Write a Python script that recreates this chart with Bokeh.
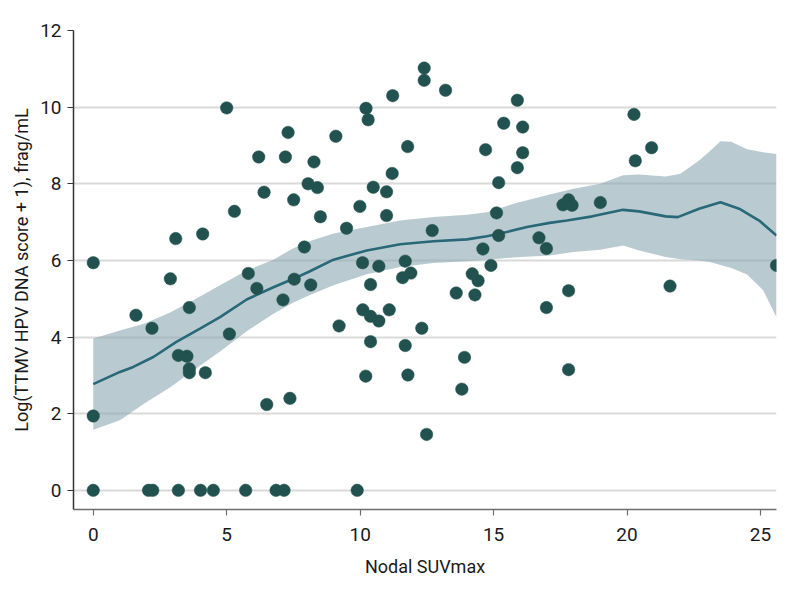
from bokeh.plotting import figure
from bokeh.models import Range1d, FixedTicker
from bokeh.embed import file_html
from bokeh.resources import INLINE

# Scatter data: Nodal SUVmax vs Log(TTMV HPV DNA score + 1)
suv = [0, 0, 0, 1.60, 2.89, 2.20, 3.09, 3.60, 3.19, 3.51, 3.60, 3.60, 4.20, 4.10, 5.00, 5.10,
       5.29, 5.81, 6.13, 6.20, 6.40, 6.50, 7.11, 7.20, 7.30, 7.37, 7.51, 7.53, 7.91, 8.05,
       8.15, 8.27, 8.40, 8.51, 9.09, 9.21, 9.49, 9.99, 10.09, 10.10, 10.21, 10.22, 10.30,
       10.39, 10.39, 10.39, 10.49, 10.70, 10.70, 10.99, 10.99, 11.09, 11.20, 11.22, 11.59,
       11.69, 11.69, 11.78, 11.79, 11.90, 12.31, 12.40, 12.40, 12.49, 12.70, 13.20, 13.60,
       13.81, 13.91, 14.20, 14.30, 14.42, 14.60, 14.70, 14.90, 15.11, 15.19, 15.19, 15.38,
       15.89, 15.89, 16.09, 16.09, 16.70, 16.98, 16.98, 17.60, 17.81, 17.94, 17.81, 17.81,
       19.00, 20.26, 20.31, 20.92, 21.61, 25.60,
       2.07, 2.23, 3.19, 4.02, 4.50, 5.71, 6.85, 7.15, 9.89]
dna = [5.94, 1.94, 0, 4.57, 5.52, 4.23, 6.57, 4.77, 3.52, 3.50, 3.17, 3.07, 3.07, 6.69, 9.98, 4.08,
       7.28, 5.66, 5.27, 8.70, 7.78, 2.24, 4.97, 8.70, 9.34, 2.40, 7.58, 5.51, 6.35, 8.00,
       5.36, 8.57, 7.90, 7.14, 9.24, 4.29, 6.84, 7.41, 5.94, 4.71, 2.98, 9.97, 9.67,
       5.37, 4.54, 3.88, 7.91, 5.85, 4.42, 7.79, 7.17, 4.71, 8.27, 10.30, 5.55,
       5.98, 3.78, 8.97, 3.01, 5.67, 4.23, 11.02, 10.70, 1.46, 6.78, 10.44, 5.15,
       2.64, 3.47, 5.65, 5.10, 5.47, 6.30, 8.89, 5.87, 7.24, 8.03, 6.65, 9.58,
       10.18, 8.42, 9.48, 8.81, 6.59, 6.31, 4.77, 7.45, 7.58, 7.44, 5.21, 3.15,
       7.51, 9.81, 8.60, 8.94, 5.33, 5.87,
       0, 0, 0, 0, 0, 0, 0, 0, 0]

# Smoothed fit
fit_x = [0, 1.0, 1.5, 2.25, 3.1, 4.0, 4.75, 5.75, 6.75, 7.5, 8.1, 9.0, 10.25, 11.5, 12.75, 14.0,
         14.75, 15.25, 16.25, 17.1, 17.75, 18.7, 19.85, 20.45, 21.45, 21.9, 22.7, 23.5, 24.2,
         24.95, 25.6]
fit_y = [2.77, 3.09, 3.22, 3.48, 3.87, 4.22, 4.52, 4.98, 5.30, 5.52, 5.71, 6.02, 6.26, 6.42, 6.50,
         6.55, 6.63, 6.70, 6.87, 6.98, 7.04, 7.15, 7.32, 7.28, 7.15, 7.13, 7.35, 7.52, 7.35,
         7.04, 6.65]

# Confidence band
band_x = [0, 1.0, 1.9, 2.9, 3.75, 4.75, 5.75, 6.75, 7.5, 8.1, 9.0, 10.25, 11.5, 12.75, 14.0, 14.75,
          15.85, 17.1, 18.0, 19.0, 19.85, 20.45, 21.45, 22.0, 22.7, 23.1, 23.5, 23.9, 24.5, 25.1, 25.6]
band_hi = [3.96, 4.17, 4.35, 4.65, 4.96, 5.35, 5.74, 6.02, 6.32, 6.50, 6.70, 6.87, 7.04, 7.13, 7.19,
           7.26, 7.50, 7.72, 7.87, 8.00, 8.22, 8.24, 8.19, 8.26, 8.61, 8.85, 9.11, 9.10, 8.90, 8.82, 8.78]
band_lo = [1.58, 1.83, 2.26, 2.70, 3.13, 3.62, 4.15, 4.61, 4.90, 5.09, 5.35, 5.64, 5.83, 5.93, 5.98,
           6.02, 6.08, 6.13, 6.22, 6.28, 6.39, 6.26, 6.09, 6.03, 6.00, 5.96, 5.88, 5.80, 5.63, 5.22, 4.52]

x_ticks = [0, 5, 10, 15, 20, 25]
y_ticks = [0, 2, 4, 6, 8, 10, 12]

FONT = "Roboto"

p = figure(width=794, height=595, output_backend="svg", toolbar_location=None,
           x_range=Range1d(-0.74, 25.6), y_range=Range1d(-0.5, 12.0),
           min_border_left=73, min_border_right=18, min_border_top=30, min_border_bottom=86)
p.outline_line_color = None
p.background_fill_color = "white"

p.xgrid.grid_line_color = None
p.ygrid.grid_line_color = "#d9d9d9"
p.ygrid.grid_line_width = 2
p.ygrid.ticker = FixedTicker(ticks=y_ticks)

p.xaxis.ticker = FixedTicker(ticks=x_ticks)
p.yaxis.ticker = FixedTicker(ticks=y_ticks)
for ax in (p.xaxis[0], p.yaxis[0]):
    ax.major_tick_out = 6
    ax.major_tick_in = 0
    ax.minor_tick_line_color = None
    ax.major_label_text_font = FONT
    ax.major_label_text_font_size = "19px"
    ax.major_label_text_color = "#1a1a1a"
    ax.axis_label_text_font = FONT
    ax.axis_label_text_font_size = "18px"
    ax.axis_label_text_font_style = "normal"
    ax.axis_label_text_color = "#1a1a1a"
    ax.axis_line_width = 1.5
    ax.major_tick_line_width = 1.2

p.xaxis.axis_line_color = "#6e6e6e"
p.xaxis.major_tick_line_color = "#6e6e6e"
p.yaxis.axis_line_color = "#333333"
p.yaxis.major_tick_line_color = "#333333"
p.xaxis.axis_label = "Nodal SUVmax"
p.yaxis.axis_label = "Log(TTMV HPV DNA score + 1), frag/mL"
p.xaxis.major_label_standoff = 12
p.yaxis.major_label_standoff = 6
p.xaxis.axis_label_standoff = 12
p.yaxis.axis_label_standoff = 5

p.varea(x=band_x, y1=band_lo, y2=band_hi, fill_color="#8aa9b3", fill_alpha=0.6)
p.line(fit_x, fit_y, line_color="#286877", line_width=2.6)
p.scatter(suv, dna, size=12.5, fill_color="#22524f", line_color="#22524f", line_width=0.5)

open("out.html", "w").write(file_html(p, INLINE))
